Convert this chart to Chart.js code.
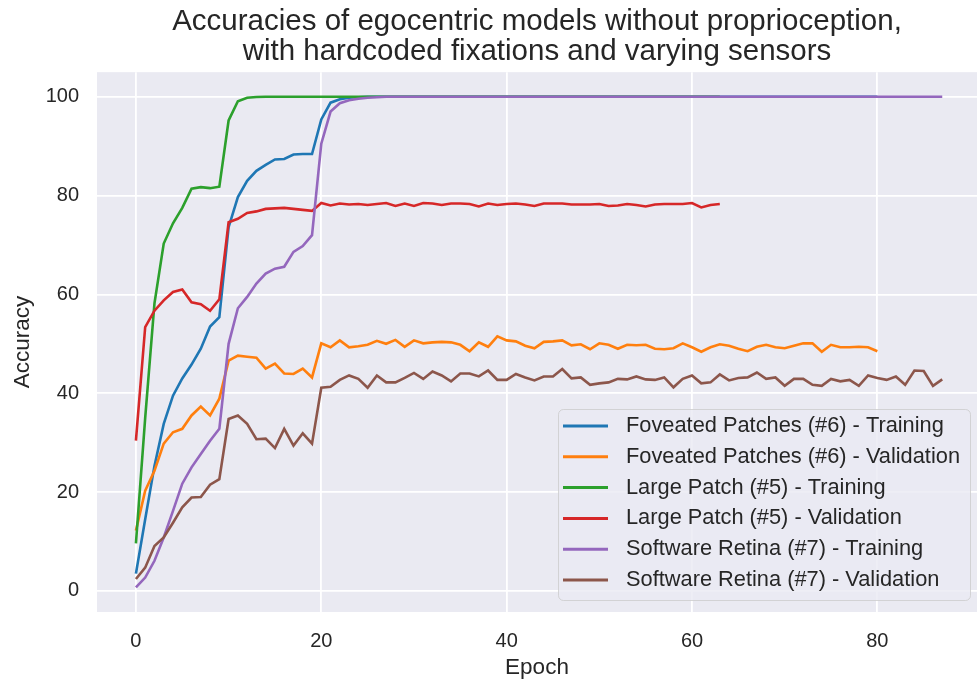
<!DOCTYPE html>
<html>
<head>
<meta charset="utf-8">
<script src="https://cdn.jsdelivr.net/npm/chart.js@4.4.0/dist/chart.umd.min.js"></script>
<style>
  html, body { margin: 0; padding: 0; background: #fff; overflow: hidden; }
  #wrap { width: 977px; height: 681px; }
</style>
</head>
<body>
<div id="wrap"><canvas id="myChart" width="977" height="681"></canvas></div>
<script>
// series labels
const seriesNames = [
    'Foveated Patches (#6) - Training',
    'Foveated Patches (#6) - Validation',
    'Large Patch (#5) - Training',
    'Large Patch (#5) - Validation',
    'Software Retina (#7) - Training',
    'Software Retina (#7) - Validation'
];
const seriesColors = ['#1f77b4', '#ff7f0e', '#2ca02c', '#d62728', '#9467bd', '#8c564b'];

// accuracy per epoch (index = epoch)
const fovTrain = [3.5, 14.5, 25.3, 33.8, 39.5, 43, 45.8, 49, 53.5, 55.4,
    73.6, 79.7, 83, 85, 86.2, 87.3, 87.4, 88.3, 88.4, 88.4,
    95.4, 98.8, 99.5, 99.8, 99.9, 100, 100, 100, 100, 100,
    100, 100, 100, 100, 100, 100, 100, 100, 100, 100,
    100, 100, 100, 100, 100, 100, 100, 100, 100, 100,
    100, 100, 100, 100, 100, 100, 100, 100, 100, 100,
    100, 100, 100, 100, 100, 100, 100, 100, 100, 100,
    100, 100, 100, 100, 100, 100, 100, 100, 100, 100, 100];
const fovVal = [12.2, 20.3, 24.3, 29.8, 32.1, 32.8, 35.5, 37.3, 35.5, 38.9,
    46.6, 47.6, 47.4, 47.2, 45, 46, 44, 43.9, 45, 43.2,
    50.1, 49.3, 50.7, 49.3, 49.5, 49.8, 50.6, 50, 50.8, 49.4,
    50.7, 50.1, 50.3, 50.4, 50.3, 49.8, 48.5, 50.3, 49.4, 51.5,
    50.7, 50.5, 49.6, 49.1, 50.4, 50.5, 50.7, 49.7, 49.9, 48.9,
    50.1, 49.8, 49, 49.8, 49.7, 49.8, 49, 48.9, 49.1, 50.1,
    49.3, 48.4, 49.3, 49.9, 49.6, 49, 48.5, 49.4, 49.8, 49.3,
    49.1, 49.6, 50.1, 50.1, 48.4, 49.8, 49.3, 49.3, 49.4, 49.3, 48.5];
const largeTrain = [9.6, 35, 58.2, 70.3, 74.4, 77.5, 81.4, 81.7, 81.5, 81.8,
    95.2, 99.1, 99.8, 99.95, 100, 100, 100, 100, 100, 100,
    100, 100, 100, 100, 100, 100, 100, 100, 100, 100,
    100, 100, 100, 100, 100, 100, 100, 100, 100, 100,
    100, 100, 100, 100, 100, 100, 100, 100, 100, 100,
    100, 100, 100, 100, 100, 100, 100, 100, 100, 100,
    100, 100, 100, 100];
const largeVal = [30.4, 53.4, 56.7, 58.8, 60.5, 61, 58.4, 58, 56.7, 59,
    74.6, 75.3, 76.5, 76.8, 77.3, 77.4, 77.5, 77.3, 77.1, 76.9,
    78.5, 78, 78.4, 78.2, 78.3, 78.1, 78.3, 78.5, 77.9, 78.4,
    77.9, 78.5, 78.4, 78.1, 78.4, 78.4, 78.3, 77.8, 78.4, 78.1,
    78.3, 78.4, 78.2, 77.9, 78.4, 78.4, 78.4, 78.2, 78.2, 78.2,
    78.3, 77.9, 78, 78.3, 78.1, 77.8, 78.2, 78.3, 78.3, 78.3,
    78.5, 77.6, 78.1, 78.3];
const retinaTrain = [0.7, 2.7, 6.1, 10.8, 16.2, 21.7, 25, 27.7, 30.4, 32.8,
    50, 57.2, 59.5, 62.2, 64.2, 65.2, 65.6, 68.6, 69.8, 72,
    90.5, 97, 98.7, 99.3, 99.6, 99.8, 99.9, 100, 100, 100,
    100, 100, 100, 100, 100, 100, 100, 100, 100, 100,
    100, 100, 100, 100, 100, 100, 100, 100, 100, 100,
    100, 100, 100, 100, 100, 100, 100, 100, 100, 100,
    100, 100, 100, 100, 100, 100, 100, 100, 100, 100,
    100, 100, 100, 100, 100, 100, 100, 100, 100, 100,
    100, 100, 100, 100, 100, 100, 100, 100];
const retinaVal = [2.4, 4.7, 9.1, 10.8, 13.8, 16.9, 18.9, 19, 21.5, 22.6,
    34.8, 35.5, 33.8, 30.7, 30.8, 28.9, 32.8, 29.4, 31.9, 29.8,
    41.1, 41.3, 42.7, 43.6, 42.9, 41.1, 43.6, 42.2, 42.2, 43.1,
    44.1, 42.9, 44.4, 43.6, 42.4, 44, 44, 43.4, 44.6, 42.7,
    42.7, 43.9, 43.2, 42.6, 43.4, 43.4, 44.9, 43, 43.2, 41.7,
    42, 42.2, 42.9, 42.8, 43.4, 42.8, 42.7, 43.2, 41.2, 42.9,
    43.6, 42, 42.2, 43.8, 42.6, 43.1, 43.2, 44.2, 42.9, 43.2,
    41.5, 42.9, 42.9, 41.7, 41.5, 42.9, 42.4, 42.7, 41.5, 43.6,
    43.1, 42.7, 43.4, 41.7, 44.6, 44.5, 41.5, 42.8];

const allSeries = [fovTrain, fovVal, largeTrain, largeVal, retinaTrain, retinaVal];

// tick labels
const xTicks = [0, 20, 40, 60, 80];
const yTicks = [0, 20, 40, 60, 80, 100];

const textColor = '#262626';
const fontFamily = '"Liberation Sans", Arial, sans-serif';

// grey plot background
const plotBg = {
    id: 'plotBg',
    beforeDraw(chart) {
        const {ctx, chartArea} = chart;
        ctx.save();
        ctx.fillStyle = '#eaeaf2';
        ctx.fillRect(chartArea.left, chartArea.top, chartArea.right - chartArea.left, chartArea.bottom - chartArea.top);
        ctx.restore();
    }
};

// legend inside the plot, lower right
const innerLegend = {
    id: 'innerLegend',
    afterDatasetsDraw(chart) {
        const {ctx, chartArea} = chart;
        const w = 412, h = 191;
        const left = chartArea.right - 7 - w;
        const top = chartArea.bottom - 12 - h;
        ctx.save();
        ctx.beginPath();
        ctx.roundRect(left + 0.5, top + 0.5, w, h, 5);
        ctx.fillStyle = 'rgba(234,234,242,0.8)';
        ctx.fill();
        ctx.strokeStyle = 'rgba(204,204,204,0.8)';
        ctx.lineWidth = 1;
        ctx.stroke();
        ctx.font = '21.8px ' + fontFamily;
        ctx.textBaseline = 'middle';
        ctx.textAlign = 'left';
        chart.data.datasets.forEach((ds, i) => {
            const cy = top + 17 + i * 30.8;
            ctx.strokeStyle = ds.borderColor;
            ctx.lineWidth = 3;
            ctx.beginPath();
            ctx.moveTo(left + 5, cy);
            ctx.lineTo(left + 50, cy);
            ctx.stroke();
            ctx.fillStyle = textColor;
            ctx.fillText(ds.label, left + 68, cy);
        });
        ctx.restore();
    }
};

const ctx = document.getElementById('myChart').getContext('2d');
const myChart = new Chart(ctx, {
    type: 'line',
    data: {
        datasets: allSeries.map((vals, i) => ({
            label: seriesNames[i],
            data: vals.map((v, epoch) => ({x: epoch, y: v})),
            borderColor: seriesColors[i],
            backgroundColor: seriesColors[i],
            borderWidth: 2.6,
            pointRadius: 0,
            tension: 0,
            order: 6 - i
        }))
    },
    options: {
        responsive: false,
        animation: false,
        devicePixelRatio: 1,
        layout: { padding: 0 },
        plugins: {
            legend: { display: false },
            tooltip: { enabled: false },
            title: {
                display: true,
                fullSize: false,
                text: ['Accuracies of egocentric models without proprioception,', 'with hardcoded fixations and varying sensors'],
                color: textColor,
                font: { family: fontFamily, size: 29.5, weight: 'normal', lineHeight: 1.02 },
                padding: { top: 7, bottom: 5 }
            }
        },
        scales: {
            x: {
                type: 'linear',
                min: -4.2,
                max: 90.75,
                afterBuildTicks: scale => { scale.ticks = xTicks.map(v => ({value: v})); },
                afterFit: scale => { scale.height = 69; },
                grid: { color: '#ffffff', lineWidth: 1.8, drawTicks: false },
                border: { display: false },
                ticks: { color: textColor, font: { family: fontFamily, size: 20 }, padding: 17, maxRotation: 0 },
                title: {
                    display: true, text: 'Epoch', color: textColor,
                    font: { family: fontFamily, size: 22.5 }, padding: { top: 0, bottom: 0 }
                }
            },
            y: {
                type: 'linear',
                min: -4.27,
                max: 104.97,
                afterBuildTicks: scale => { scale.ticks = yTicks.map(v => ({value: v})); },
                afterFit: scale => { scale.width = 97; },
                grid: { color: '#ffffff', lineWidth: 1.8, drawTicks: false },
                border: { display: false },
                ticks: { color: textColor, font: { family: fontFamily, size: 20 }, padding: 18 },
                title: {
                    display: true, text: 'Accuracy', color: textColor,
                    font: { family: fontFamily, size: 22.5 }, padding: { top: 9, bottom: 0 }
                }
            }
        }
    },
    plugins: [plotBg, innerLegend]
});
</script>
</body>
</html>
